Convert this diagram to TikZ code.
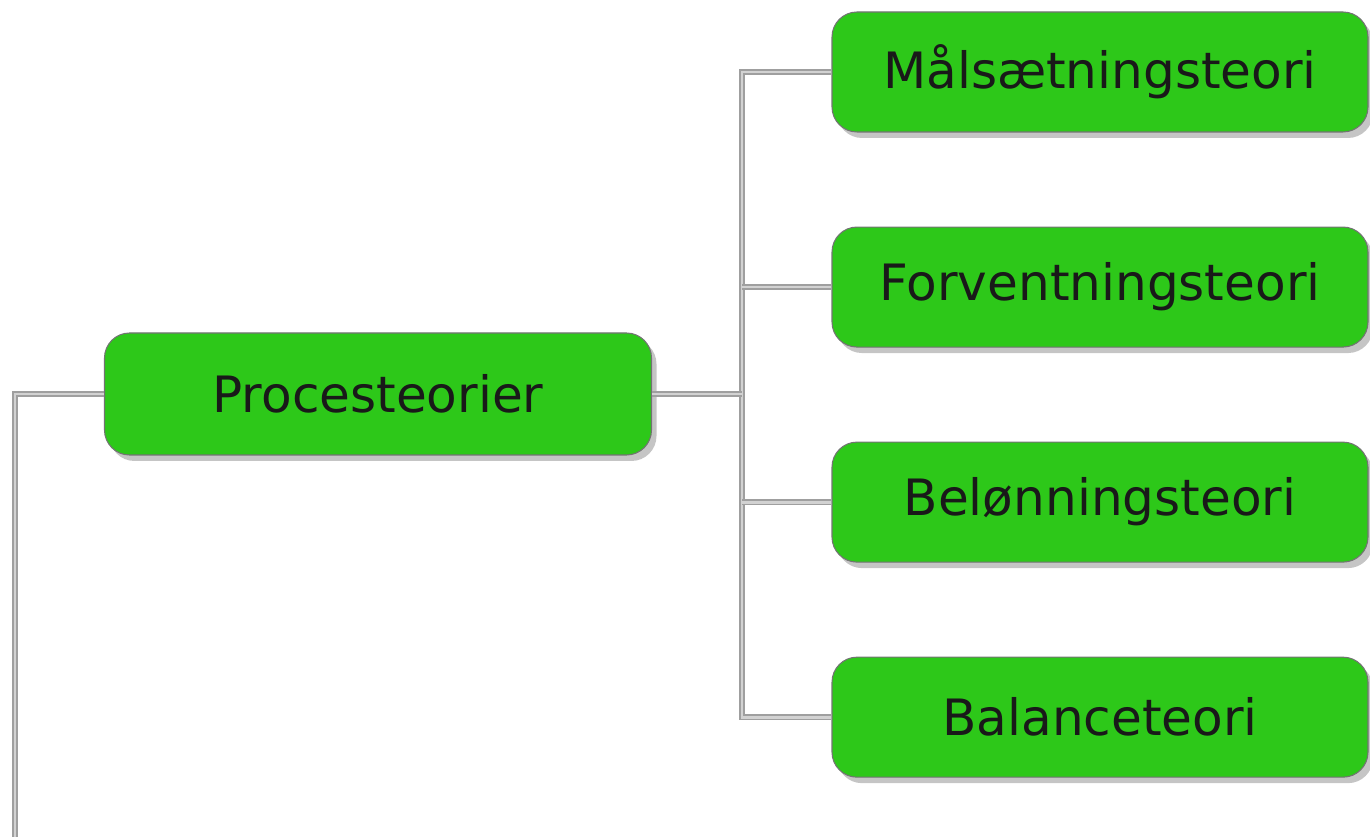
\documentclass[tikz,border=0pt]{standalone}
\usepackage{fontspec}
\setmainfont{DejaVu Sans}
\usepackage{xcolor}
\usetikzlibrary{positioning}
\usetikzlibrary{shadows}
\definecolor{leafgreen}{RGB}{45,200,25}

\begin{document}
\begin{tikzpicture}[
        node distance=1.88cm and 3.6cm,
        box/.style={rectangle, draw=black!55, fill=leafgreen, semithick, rounded corners=0.5cm, minimum width=10.94cm, minimum height=2.44cm, align=center, text=black!90, font=\fontsize{28.5}{32}\selectfont, drop shadow={shadow xshift=0.1cm, shadow yshift=-0.12cm, fill=black!45}},
        leaf/.style={box, minimum width=10.72cm, minimum height=2.4cm},
        link/.style={draw=gray!75, double=gray!35, double distance=1.6pt, line width=0.8pt}
    ]

        \useasboundingbox (0,0) rectangle (27.4,16.74);

        % nodes
        \node[box] (proc) at (7.56,8.86) {Procesteorier};
        \node[leaf] (mal) at (22.0,15.3) {Målsætningsteori};
        \node[leaf, below=of {mal}] (forv) {Forventningsteori};
        \node[leaf, below=of {forv}] (belon) {Belønningsteori};
        \node[leaf, below=of {belon}] (bal) {Balanceteori};

        \coordinate (bus) at (14.84,0);
        \coordinate (root) at (0.3,0);

        % connectors
        \draw[link] (mal.west) -- (mal.west -| bus) -- (bal.west -| bus) -- (bal.west);
        \draw[link] (forv.west) -- (forv.west -| bus);
        \draw[link] (belon.west) -- (belon.west -| bus);
        \draw[link] (proc.east) -- (proc.east -| bus);
        \draw[link] (proc.west) -- (proc.west -| root) -- (root);
    \end{tikzpicture}
\end{document}
